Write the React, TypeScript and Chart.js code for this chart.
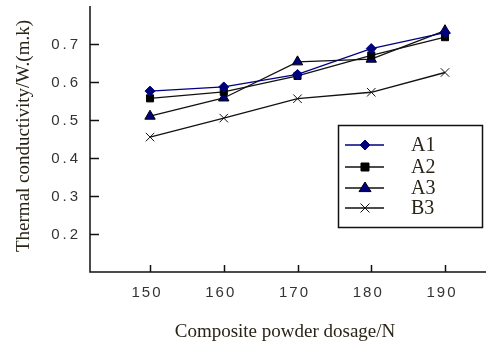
import React, { useEffect, useRef } from "react";
import { Chart, registerables } from "chart.js";
Chart.register(...registerables);

const dosage = [150, 160, 170, 180, 190];
const a1 = [0.576, 0.587, 0.62, 0.688, 0.73];
const a2 = [0.557, 0.574, 0.616, 0.67, 0.718];
const a3 = [0.51, 0.558, 0.653, 0.66, 0.735];
const b3 = [0.455, 0.505, 0.556, 0.573, 0.625];
const yTicks = [0.2, 0.3, 0.4, 0.5, 0.6, 0.7];
const seriesNames = ["A1", "A2", "A3", "B3"];
const xTitle = "Composite powder dosage/N";
const yTitle = "Thermal conductivity/W.(m.k)";

const NAVY = "#00007f";
const TEXT = "#2a2418";

function drawMarker(ctx: CanvasRenderingContext2D, style: string, x: number, y: number, r: number, bg: string, border: string) {
  ctx.save();
  ctx.fillStyle = bg;
  ctx.strokeStyle = border;
  ctx.lineWidth = 1;
  ctx.beginPath();
  if (style === "rectRot") {
    ctx.moveTo(x, y - r); ctx.lineTo(x + r, y); ctx.lineTo(x, y + r); ctx.lineTo(x - r, y); ctx.closePath();
    ctx.fill(); ctx.stroke();
  } else if (style === "rect") {
    ctx.rect(x - r * 0.8, y - r * 0.8, r * 1.6, r * 1.6); ctx.fill(); ctx.stroke();
  } else if (style === "triangle") {
    ctx.moveTo(x, y - r); ctx.lineTo(x + r, y + r * 0.6); ctx.lineTo(x - r, y + r * 0.6); ctx.closePath();
    ctx.fill(); ctx.stroke();
  } else if (style === "crossRot") {
    const d = r * 0.75;
    ctx.moveTo(x - d, y - d); ctx.lineTo(x + d, y + d); ctx.moveTo(x + d, y - d); ctx.lineTo(x - d, y + d);
    ctx.stroke();
  }
  ctx.restore();
}

const decorPlugin = {
  id: "decor",
  afterDraw(chart: any) {
    const ctx: any = chart.ctx;
    const { left, right, top, bottom } = chart.chartArea;
    const xs = chart.scales.x;
    const ys = chart.scales.y;
    ctx.save();
    // axes
    ctx.strokeStyle = "#111";
    ctx.lineWidth = 1.5;
    ctx.beginPath();
    ctx.moveTo(left, top);
    ctx.lineTo(left, bottom);
    ctx.lineTo(right, bottom);
    ctx.stroke();
    // tick marks (inside)
    ctx.beginPath();
    yTicks.forEach((v) => {
      const py = Math.round(ys.getPixelForValue(v)) + 0.5;
      ctx.moveTo(left, py);
      ctx.lineTo(left + 9, py);
    });
    dosage.forEach((v) => {
      const px = Math.round(xs.getPixelForValue(v)) + 0.5;
      ctx.moveTo(px, bottom);
      ctx.lineTo(px, bottom - 7);
    });
    ctx.stroke();
    // tick labels
    ctx.fillStyle = "#333";
    ctx.font = "15px 'Liberation Sans', Arial, sans-serif";
    ctx.letterSpacing = "3px";
    ctx.textAlign = "right";
    ctx.textBaseline = "middle";
    yTicks.forEach((v) => {
      ctx.fillText(v.toFixed(1), left - 9, ys.getPixelForValue(v) + 1);
    });
    ctx.letterSpacing = "2px";
    ctx.textAlign = "center";
    dosage.forEach((v) => {
      ctx.fillText(String(v), xs.getPixelForValue(v) - 3, bottom + 21);
    });
    ctx.letterSpacing = "0px";
    // titles
    ctx.fillStyle = TEXT;
    ctx.font = "19px 'Liberation Serif', 'DejaVu Serif', serif";
    ctx.textAlign = "center";
    ctx.textBaseline = "middle";
    ctx.fillText(xTitle, 285, 332);
    ctx.save();
    ctx.translate(24, 136);
    ctx.rotate(-Math.PI / 2);
    ctx.fillText(yTitle, 0, 0);
    ctx.restore();
    // legend
    const lx = 338, ly = 125, lw = 144, lh = 102;
    ctx.fillStyle = "#fff";
    ctx.fillRect(lx, ly, lw, lh);
    ctx.strokeStyle = "#111";
    ctx.lineWidth = 1.5;
    ctx.strokeRect(lx + 0.5, ly + 0.5, lw, lh);
    const rows = [145, 167, 188, 208];
    chart.data.datasets.forEach((ds: any, i: number) => {
      const y = rows[i];
      ctx.strokeStyle = ds.borderColor;
      ctx.lineWidth = 1.3;
      ctx.beginPath();
      ctx.moveTo(345, y);
      ctx.lineTo(384, y);
      ctx.stroke();
      drawMarker(ctx, ds.pointStyle, 365, y, ds.pointRadius, ds.pointBackgroundColor, ds.pointBorderColor);
      ctx.fillStyle = TEXT;
      ctx.font = "20px 'Liberation Serif', 'DejaVu Serif', serif";
      ctx.textAlign = "left";
      ctx.textBaseline = "middle";
      ctx.fillText(ds.label, 411, y + 1);
    });
    ctx.restore();
  },
};

export default function App() {
  const ref = useRef<HTMLCanvasElement | null>(null);
  useEffect(() => {
    if (!ref.current) return;
    const mk = (label: string, data: number[], color: string, style: string, r: number, bg: string, border: string) => ({
      label,
      data: data.map((v, i) => ({ x: dosage[i], y: v })),
      borderColor: color,
      borderWidth: 1.3,
      pointStyle: style,
      pointRadius: r,
      pointBackgroundColor: bg,
      pointBorderColor: border,
      pointBorderWidth: 1,
      fill: false,
      tension: 0,
      clip: false,
    });
    const chart = new Chart(ref.current, {
      type: "line",
      data: {
        datasets: [
          mk(seriesNames[0], a1, NAVY, "rectRot", 5, NAVY, NAVY),
          mk(seriesNames[1], a2, "#111", "rect", 5, "#000", "#000"),
          mk(seriesNames[2], a3, "#111", "triangle", 6, NAVY, "#000"),
          mk(seriesNames[3], b3, "#111", "crossRot", 6, "#000", "#111"),
        ],
      },
      plugins: [decorPlugin],
      options: {
        responsive: false,
        animation: false,
        layout: { autoPadding: false, padding: { top: 6, right: 2, left: 0, bottom: 0 } },
        plugins: { legend: { display: false }, tooltip: { enabled: false } },
        scales: {
          x: {
            type: "linear",
            min: 141.86,
            max: 195.56,
            afterBuildTicks: (s: any) => { s.ticks = dosage.map((v) => ({ value: v })); },
            afterFit: (s: any) => { s.height = 73; s.paddingLeft = 0; s.paddingRight = 0; },
            grid: { display: false, drawTicks: false },
            border: { display: false },
            ticks: { display: false },
          },
          y: {
            type: "linear",
            min: 0.1,
            max: 0.8,
            afterBuildTicks: (s: any) => { s.ticks = yTicks.map((v) => ({ value: v })); },
            afterFit: (s: any) => { s.width = 90; s.paddingTop = 0; s.paddingBottom = 0; },
            grid: { display: false, drawTicks: false },
            border: { display: false },
            ticks: { display: false },
          },
        },
      },
    } as any);
    return () => chart.destroy();
  }, []);
  return (
    <div style={{ position: "fixed", left: 0, top: 0, width: 488, height: 345, background: "#fff" }}>
      <canvas ref={ref} width={488} height={345} style={{ width: 488, height: 345 }} />
    </div>
  );
}
